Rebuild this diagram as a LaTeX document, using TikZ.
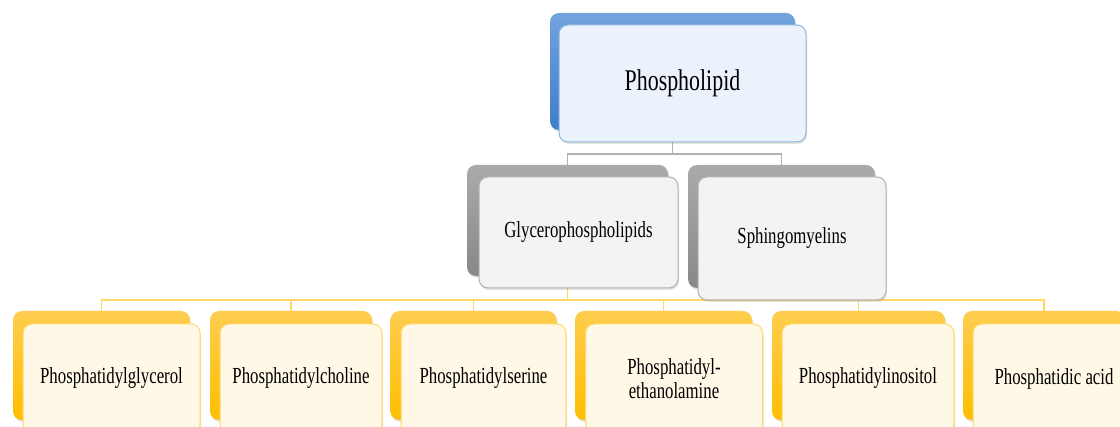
\documentclass[tikz,border=0pt]{standalone}
\usepackage{fontspec}
\setmainfont{Liberation Serif}[FakeStretch=0.73]
\usetikzlibrary{shadows}
\definecolor{PanelBlueTop}{HTML}{72A4DD}
\definecolor{PanelBlueBot}{HTML}{3F7DCB}
\definecolor{PanelBlueFill}{HTML}{EBF2FB}
\definecolor{PanelBlueLine}{HTML}{8DB4E2}
\definecolor{PanelGrayTop}{HTML}{ABABAB}
\definecolor{PanelGrayBot}{HTML}{888888}
\definecolor{PanelGrayFill}{HTML}{F3F3F3}
\definecolor{PanelGrayLine}{HTML}{B2B2B2}
\definecolor{PanelGoldTop}{HTML}{FFCD4F}
\definecolor{PanelGoldBot}{HTML}{FFBE00}
\definecolor{PanelGoldFill}{HTML}{FFF8E7}
\definecolor{PanelGoldLine}{HTML}{FFD966}
\tikzset{
    % Panel base - rounded corners, soft shadow
    panel/.style={
        rectangle,
        rounded corners=9pt,
        inner sep=0pt,
        align=center,
        drop shadow={shadow xshift=1pt, shadow yshift=-2pt, opacity=0.22}
    },
    % Back panels - shaded
    blueback/.style={panel, top color=PanelBlueTop, bottom color=PanelBlueBot},
    grayback/.style={panel, top color=PanelGrayTop, bottom color=PanelGrayBot},
    goldback/.style={panel, top color=PanelGoldTop, bottom color=PanelGoldBot},
    % Front panels - light fill with coloured border
    bluefront/.style={
        panel,
        fill=PanelBlueFill,
        draw=PanelBlueLine,
        line width=1pt,
        font=\fontsize{30}{34}\selectfont
    },
    grayfront/.style={
        panel,
        fill=PanelGrayFill,
        draw=PanelGrayLine,
        line width=1pt,
        font=\fontsize{23}{24}\selectfont
    },
    goldfront/.style={
        panel,
        fill=PanelGoldFill,
        draw=PanelGoldLine,
        line width=1pt,
        font=\fontsize{23}{24}\selectfont
    },
    % Connector styles - elbow lines only
    grayline/.style={line width=1.2pt, draw=PanelGrayLine},
    goldline/.style={line width=1.3pt, draw=PanelGoldLine}
}

\begin{document}
\begin{tikzpicture}[x=1pt, y=-1pt]
    \clip (0,0) rectangle (1120,427);
    \fill[white] (0,0) rectangle (1120,427);

    % Back panels
    \node[blueback, minimum width=245pt, minimum height=117pt] (phosb) at (672.5,71.5) {};
    \node[grayback, minimum width=201pt, minimum height=111pt] (glyb) at (567.5,220.5) {};
    \node[grayback, minimum width=187pt, minimum height=123pt] (sphb) at (781.5,226.5) {};

    \node[goldback, minimum width=177pt, minimum height=109pt] (pgb) at (101.5,365.5) {};
    \node[goldback, minimum width=162pt, minimum height=109pt] (pcb) at (291,365.5) {};
    \node[goldback, minimum width=166pt, minimum height=109pt] (psb) at (473.5,365.5) {};
    \node[goldback, minimum width=177pt, minimum height=109pt] (peb) at (663.5,365.5) {};
    \node[goldback, minimum width=173pt, minimum height=109pt] (pib) at (858.5,365.5) {};
    \node[goldback, minimum width=162pt, minimum height=109pt] (pab) at (1044,365.5) {};

    % Connectors
    \coordinate (grayjoin) at (672.5,154);
    \draw[grayline] (phosb.south) -- (grayjoin) -| (glyb.north);
    \draw[grayline] (grayjoin) -| (sphb.north);

    \coordinate (goldjoin) at (567.5,300);
    \draw[goldline] (glyb.south) -- (goldjoin);
    \foreach \n in {pgb,pcb,psb,peb,pib,pab}
        \draw[goldline] (goldjoin) -| (\n.north);

    % Front panels
    \node[bluefront, minimum width=247pt, minimum height=117pt] (phos) at (682.5,83.5) {Phospholipid};
    \node[grayfront, minimum width=199pt, minimum height=111pt] (gly) at (578.5,232.5) {Glycerophospholipids};
    \node[grayfront, minimum width=188pt, minimum height=123pt] (sph) at (792,238.5) {Sphingomyelins};

    \node[goldfront, minimum width=177pt, minimum height=109pt] (pg) at (111.5,378.5) {Phosphatidylglycerol};
    \node[goldfront, minimum width=162pt, minimum height=109pt] (pc) at (301,378.5) {Phosphatidylcholine};
    \node[goldfront, minimum width=165pt, minimum height=109pt] (ps) at (483.5,378.5) {Phosphatidylserine};
    \node[goldfront, minimum width=177pt, minimum height=109pt] (pe) at (674,378.5) {Phosphatidyl-\\ethanolamine};
    \node[goldfront, minimum width=172pt, minimum height=109pt] (pi) at (868,378.5) {Phosphatidylinositol};
    \node[goldfront, minimum width=162pt, minimum height=109pt] (pa) at (1054,378.5) {Phosphatidic acid};
\end{tikzpicture}
\end{document}
